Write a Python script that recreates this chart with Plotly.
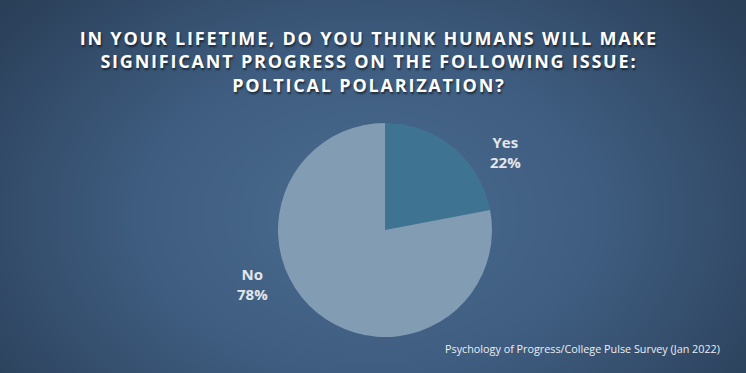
import numpy as np
import plotly.graph_objects as go

W, H = 746, 373

# ---- data ----
labels = ["Yes", "No"]
values = [22, 78]
slice_colors = ["#3e7491", "#829cb4"]
title_lines = [
    "IN YOUR LIFETIME, DO YOU THINK HUMANS WILL MAKE",
    "SIGNIFICANT PROGRESS ON THE FOLLOWING ISSUE:",
    "POLTICAL POLARIZATION?",
]
source_text = "Psychology of Progress/College Pulse Survey (Jan 2022)"

# ---- background radial gradient (styling only) ----
gx = np.linspace(0, W, 60)
gy = np.linspace(0, H, 30)
X, Y = np.meshgrid(gx, gy)
cx, cy = 370, 215
D = np.sqrt(((X - cx) / 470) ** 2 + ((Y - cy) / 330) ** 2)
D = np.clip(D, 0, 1)

fig = go.Figure()
fig.add_trace(go.Heatmap(
    x=gx, y=gy, z=D, zmin=0, zmax=1, zsmooth="best",
    colorscale=[[0, "#4a6c90"], [0.5, "#3e5c7f"], [1, "#2a3f58"]],
    showscale=False, hoverinfo="skip",
))

fig.add_trace(go.Pie(
    labels=labels, values=values, sort=False, direction="clockwise",
    rotation=0, marker=dict(colors=slice_colors, line=dict(width=0)),
    textinfo="none", hoverinfo="skip", showlegend=False,
    domain=dict(x=[278 / W, 492 / W], y=[(H - 337) / H, (H - 123) / H]),
))

label_pos = {"Yes": (505, 152), "No": (252, 284)}
for lab, v in zip(labels, values):
    px, py = label_pos[lab]
    fig.add_annotation(
        x=px / W, y=1 - py / H, xref="paper", yref="paper",
        xanchor="center", yanchor="middle",
        text=f"{lab}<br>{v}%", showarrow=False, align="center",
        font=dict(family="Open Sans", size=15, color="#e4e6ea", weight="bold"),
    )

fig.add_annotation(
    x=369 / W, y=1 - 61 / H, xref="paper", yref="paper",
    xanchor="center", yanchor="middle",
    text="<br>".join(title_lines), showarrow=False, align="center",
    font=dict(family="Open Sans", size=18, color="#ffffff", weight="bold",
              shadow="1px 2px 2px rgba(0,0,0,0.55)"),
)

fig.add_annotation(
    x=722 / W, y=1 - 348 / H, xref="paper", yref="paper",
    xanchor="right", yanchor="middle",
    text=source_text, showarrow=False,
    font=dict(family="Open Sans", size=10.8, color="#eceef1"),
)

fig.update_layout(
    width=W, height=H, margin=dict(l=0, r=0, t=0, b=0),
    paper_bgcolor="#3a5676", plot_bgcolor="#3a5676",
    xaxis=dict(visible=False, range=[0, W], domain=[0, 1], fixedrange=True),
    yaxis=dict(visible=False, range=[H, 0], domain=[0, 1], fixedrange=True),
)

post = """
document.body.style.margin='0';document.body.style.padding='0';
var els=document.querySelectorAll('.annotation-text');
els.forEach(function(e){ if(e.textContent.indexOf('LIFETIME')>=0){ e.style.letterSpacing='1.8px'; } });
"""

fig.write_html("out.html", config={"displayModeBar": False}, post_script=post)
